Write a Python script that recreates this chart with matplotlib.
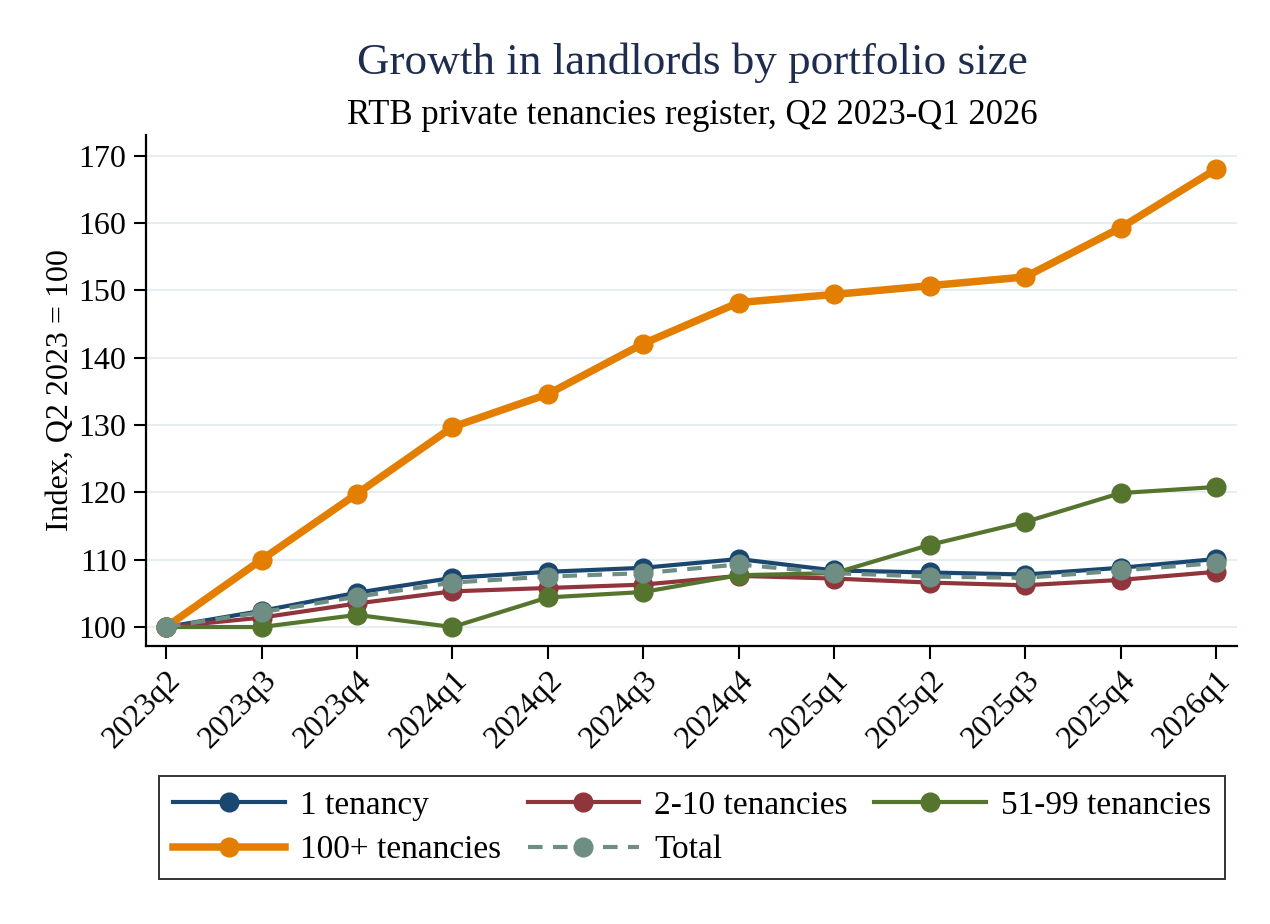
import matplotlib
matplotlib.use("Agg")
import matplotlib.pyplot as plt

quarters = ["2023q2", "2023q3", "2023q4", "2024q1", "2024q2", "2024q3",
            "2024q4", "2025q1", "2025q2", "2025q3", "2025q4", "2026q1"]
one_tenancy = [100, 102.4, 105.1, 107.3, 108.2, 108.8, 110.1, 108.4, 108.1, 107.8, 108.8, 110.1]
two_ten = [100, 101.4, 103.5, 105.3, 105.8, 106.3, 107.6, 107.2, 106.6, 106.2, 107.0, 108.2]
fiftyone_99 = [100, 100.0, 101.8, 100.0, 104.4, 105.2, 107.7, 108.0, 112.2, 115.6, 119.9, 120.8]
hundred_plus = [100, 110.0, 119.8, 129.7, 134.6, 142.1, 148.2, 149.4, 150.7, 152.0, 159.3, 168.0]
total = [100, 102.2, 104.5, 106.6, 107.5, 108.0, 109.3, 108.0, 107.5, 107.3, 108.4, 109.5]
yticks = [100, 110, 120, 130, 140, 150, 160, 170]

serif = ["Liberation Serif", "DejaVu Serif"]
plt.rcParams['font.family'] = serif

fig = plt.figure(figsize=(12.7, 9.24), dpi=100)
ax = fig.add_axes([0.115, 0.301, 0.859, 0.553])

x = list(range(len(quarters)))
ms = 13.5
ax.plot(x, one_tenancy, color="#1a476f", lw=3.0, marker="o", ms=ms, label="1 tenancy", zorder=3)
ax.plot(x, two_ten, color="#90353b", lw=3.0, marker="o", ms=ms, label="2-10 tenancies", zorder=3)
ax.plot(x, fiftyone_99, color="#55752f", lw=3.0, marker="o", ms=ms, label="51-99 tenancies", zorder=3)
ax.plot(x, hundred_plus, color="#e37e00", lw=5.4, marker="o", ms=ms, label="100+ tenancies", zorder=3)
ax.plot(x, total, color="#6e8e84", lw=3.0, ls=(0, (3.5, 2.5)), marker="o", ms=ms, label="Total", zorder=3)

ax.set_xlim(-0.21, 11.22)
ax.set_ylim(97.2, 173.1)
ax.set_yticks(yticks)
ax.set_xticks(x)
ax.set_xticklabels(quarters, rotation=45, ha="right", rotation_mode="anchor")
ax.tick_params(axis="both", labelsize=23, length=9, width=1.5, direction="out", pad=5)
ax.grid(axis="y", color="#e6eef2", lw=1.5, zorder=0)
ax.set_axisbelow(True)
for s in ["top", "right"]:
    ax.spines[s].set_visible(False)
for s in ["left", "bottom"]:
    ax.spines[s].set_linewidth(1.6)
ax.set_ylabel("Index, Q2 2023 = 100", fontsize=23, labelpad=3)

fig.text(0.545, 0.932, "Growth in landlords by portfolio size", ha="center", va="center",
         fontsize=32.5, color="#1e2d4f")
fig.text(0.545, 0.875, "RTB private tenancies register, Q2 2023-Q1 2026", ha="center", va="center",
         fontsize=25, color="black")

h, l = ax.get_legend_handles_labels()
order = [0, 3, 1, 4, 2]
leg = fig.legend([h[i] for i in order], [l[i] for i in order], ncol=3,
                 loc="center", bbox_to_anchor=(0.545, 0.104), fontsize=24,
                 frameon=True, fancybox=False, edgecolor="black", handlelength=3.35,
                 columnspacing=0.8, borderpad=0.42, labelspacing=0.42, handletextpad=0.45)
leg.get_frame().set_linewidth(1.4)

fig.savefig("out.png", dpi=100, facecolor="white")
